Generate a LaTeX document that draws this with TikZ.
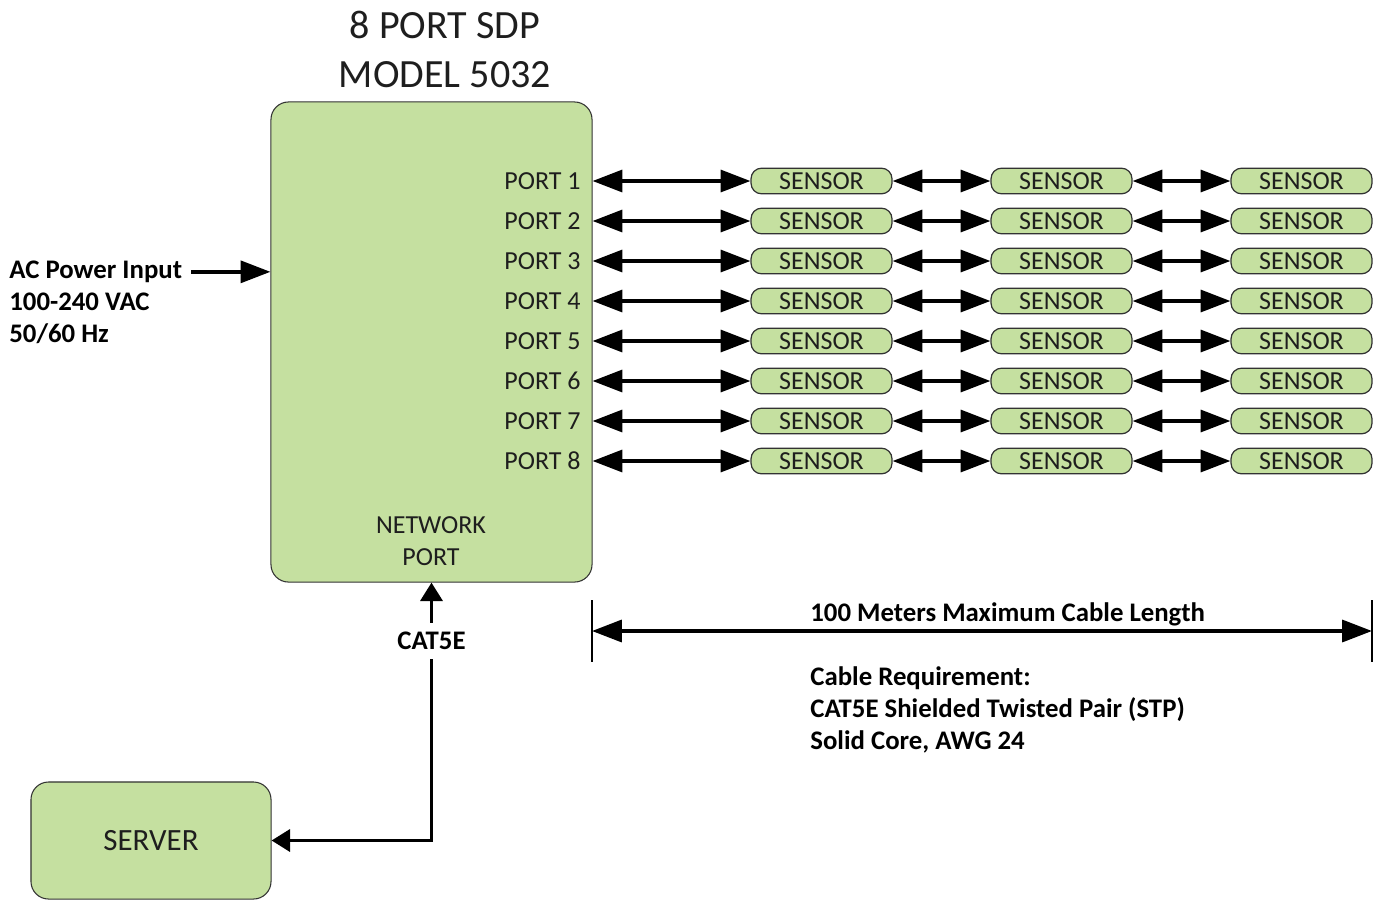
\documentclass[tikz,border=0pt]{standalone}
\usepackage{fontspec}
\setmainfont{Carlito}
\usetikzlibrary{arrows.meta}
\definecolor{boxgreen}{RGB}{197,224,160}
\definecolor{edgegray}{RGB}{50,50,50}
\definecolor{textgray}{RGB}{30,30,30}
\tikzset{
  unit/.style={draw=edgegray, fill=boxgreen, line width=0.6pt, rounded corners=10pt, inner sep=0pt, text=textgray},
  sensor/.style={draw=edgegray, fill=boxgreen, line width=0.7pt, rounded corners=6pt, minimum width=80.2pt, minimum height=14.6pt, inner sep=0pt, text=textgray, font=\fontsize{14.8}{17}\selectfont},
  port/.style={anchor=east, inner sep=0pt, text=textgray, font=\fontsize{14.8}{17}\selectfont},
  note/.style={inner sep=0pt, text=black, font=\bfseries\fontsize{15.25}{18}\selectfont},
  bus/.style={line width=2pt, {Triangle[length=17pt,width=12.5pt]}-{Triangle[length=17pt,width=12.5pt]}},
  feed/.style={line width=2pt, -{Triangle[length=17pt,width=12.5pt]}},
  cable/.style={line width=2pt, {Triangle[length=10.5pt,width=12.5pt]}-{Triangle[length=10.5pt,width=12.5pt]}},
  tick/.style={line width=1pt}
}
\begin{document}
\begin{tikzpicture}[scale=0.2]
\useasboundingbox (0,0) rectangle (138,-90.1);
% unit and title
\node [align=center, text=textgray, font=\fontsize{22.8}{27.9}\selectfont] (title) at (44.5,-4.95) {8 PORT SDP\\MODEL 5032};
\node [unit, minimum width=182.7pt, minimum height=273.2pt] (sdp) at (43.15,-34.2) {};
\node [align=center, text=textgray, font=\fontsize{14.8}{18.2}\selectfont] (netport) at (43.1,-54.15) {NETWORK\\PORT};
% ports
\node [port] (p1) at (58.1,-18.1) {PORT 1};
\node [port] (p2) at (58.1,-22.1) {PORT 2};
\node [port] (p3) at (58.1,-26.1) {PORT 3};
\node [port] (p4) at (58.1,-30.1) {PORT 4};
\node [port] (p5) at (58.1,-34.1) {PORT 5};
\node [port] (p6) at (58.1,-38.1) {PORT 6};
\node [port] (p7) at (58.1,-42.1) {PORT 7};
\node [port] (p8) at (58.1,-46.1) {PORT 8};
% sensors
\node [sensor] (s11) at (82.15,-18.1) {SENSOR};
\node [sensor] (s12) at (106.15,-18.1) {SENSOR};
\node [sensor] (s13) at (130.15,-18.1) {SENSOR};
\node [sensor] (s21) at (82.15,-22.1) {SENSOR};
\node [sensor] (s22) at (106.15,-22.1) {SENSOR};
\node [sensor] (s23) at (130.15,-22.1) {SENSOR};
\node [sensor] (s31) at (82.15,-26.1) {SENSOR};
\node [sensor] (s32) at (106.15,-26.1) {SENSOR};
\node [sensor] (s33) at (130.15,-26.1) {SENSOR};
\node [sensor] (s41) at (82.15,-30.1) {SENSOR};
\node [sensor] (s42) at (106.15,-30.1) {SENSOR};
\node [sensor] (s43) at (130.15,-30.1) {SENSOR};
\node [sensor] (s51) at (82.15,-34.1) {SENSOR};
\node [sensor] (s52) at (106.15,-34.1) {SENSOR};
\node [sensor] (s53) at (130.15,-34.1) {SENSOR};
\node [sensor] (s61) at (82.15,-38.1) {SENSOR};
\node [sensor] (s62) at (106.15,-38.1) {SENSOR};
\node [sensor] (s63) at (130.15,-38.1) {SENSOR};
\node [sensor] (s71) at (82.15,-42.1) {SENSOR};
\node [sensor] (s72) at (106.15,-42.1) {SENSOR};
\node [sensor] (s73) at (130.15,-42.1) {SENSOR};
\node [sensor] (s81) at (82.15,-46.1) {SENSOR};
\node [sensor] (s82) at (106.15,-46.1) {SENSOR};
\node [sensor] (s83) at (130.15,-46.1) {SENSOR};
% port chains
\draw [bus] (sdp.east |- p1) -- (s11.west);
\draw [bus] (s11.east) -- (s12.west);
\draw [bus] (s12.east) -- (s13.west);
\draw [bus] (sdp.east |- p2) -- (s21.west);
\draw [bus] (s21.east) -- (s22.west);
\draw [bus] (s22.east) -- (s23.west);
\draw [bus] (sdp.east |- p3) -- (s31.west);
\draw [bus] (s31.east) -- (s32.west);
\draw [bus] (s32.east) -- (s33.west);
\draw [bus] (sdp.east |- p4) -- (s41.west);
\draw [bus] (s41.east) -- (s42.west);
\draw [bus] (s42.east) -- (s43.west);
\draw [bus] (sdp.east |- p5) -- (s51.west);
\draw [bus] (s51.east) -- (s52.west);
\draw [bus] (s52.east) -- (s53.west);
\draw [bus] (sdp.east |- p6) -- (s61.west);
\draw [bus] (s61.east) -- (s62.west);
\draw [bus] (s62.east) -- (s63.west);
\draw [bus] (sdp.east |- p7) -- (s71.west);
\draw [bus] (s71.east) -- (s72.west);
\draw [bus] (s72.east) -- (s73.west);
\draw [bus] (sdp.east |- p8) -- (s81.west);
\draw [bus] (s81.east) -- (s82.west);
\draw [bus] (s82.east) -- (s83.west);
% power input
\node [note, anchor=base west] (acin) at (0.9,-27.85) {AC Power Input};
\node [note, anchor=base west] (acvolt) at (0.9,-31.05) {100-240 VAC};
\node [note, anchor=base west] (acfreq) at (0.9,-34.25) {50/60 Hz};
\draw [feed, shorten <=5pt] (acin.east) -- (sdp.west |- acin.east);
% server link
\node [unit, minimum width=136.6pt, minimum height=66.6pt, font=\fontsize{17.6}{20}\selectfont] (srv) at (15.1,-84.05) {SERVER};
\draw [cable] (srv.east) -| (sdp.south);
\node [note, fill=white, inner xsep=2pt, inner ysep=5pt] (cat) at (43.15,-64.1) {CAT5E};
% cable length
\coordinate (dimL) at (59.2,-63.1);
\coordinate (dimR) at (137.2,-63.1);
\draw [tick] (59.2,-60.0) -- (59.2,-66.2);
\draw [tick] (137.2,-60.0) -- (137.2,-66.2);
\draw [bus] (dimL) -- (dimR);
\node [note, anchor=base west] (maxlen) at (81.0,-62.1) {100 Meters Maximum Cable Length};
\node [note, anchor=base west] (req1) at (81.0,-68.55) {Cable Requirement:};
\node [note, anchor=base west] (req2) at (81.0,-71.75) {CAT5E Shielded Twisted Pair (STP)};
\node [note, anchor=base west] (req3) at (81.0,-74.95) {Solid Core, AWG 24};
\end{tikzpicture}
\end{document}
